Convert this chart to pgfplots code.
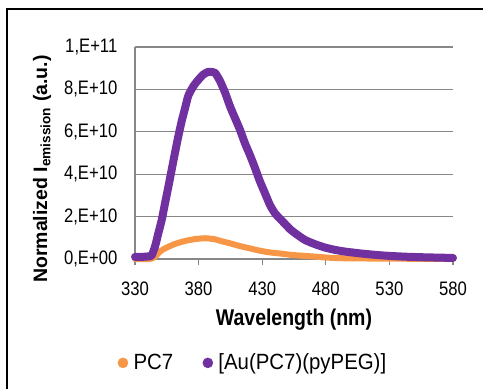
\documentclass[border=0pt]{standalone}
\usepackage{fontspec}
\setmainfont{Liberation Sans}
\usepackage{pgfplots}
\pgfplotsset{compat=1.18}
\definecolor{cPurple}{HTML}{7030A0}
\definecolor{cOrange}{HTML}{F79646}
\definecolor{cGrid}{HTML}{878787}
\newcommand{\vs}[1]{\scalebox{1}[1.17]{#1}}

\begin{document}
\begin{tikzpicture}[x=0.75pt,y=0.75pt]
\begin{axis}[
  at={(101.25pt,97.5pt)}, anchor=south west,
  scale only axis, width=238.5pt, height=159pt,
  xmin=330, xmax=580, ymin=0, ymax=10,
  clip=false,
  xtick={330,380,430,480,530,580},
  xticklabels={\vs{330},\vs{380},\vs{430},\vs{480},\vs{530},\vs{580}},
  ytick={0,2,4,6,8,10},
  yticklabels={{\vs{0,E+00}},{\vs{2,E+10}},{\vs{4,E+10}},{\vs{6,E+10}},{\vs{8,E+10}},{\vs{1,E+11}}},
  axis x line*=bottom, axis y line*=left,
  axis line style={-, draw=cGrid, line width=1pt},
  ymajorgrids, grid style={draw=cGrid, line width=1pt},
  tick align=outside, major tick length=4.5pt,
  xtick style={draw=cGrid, line width=1pt},
  ytick style={draw=none},
  ticklabel style={font=\fontsize{12.5}{14}\selectfont},
  xticklabel style={yshift=-9pt},
  yticklabel style={xshift=-5.25pt},
  xlabel={\vs{Wavelength (nm)}},
  ylabel={Normalized I\textsubscript{emission} (a.u.)},
  label style={font=\fontsize{14.6}{17}\selectfont\bfseries},
  xlabel style={at={(axis description cs:0.5,-0.288)}, anchor=center},
  ylabel style={at={(axis description cs:-0.292,0.4245)}, anchor=center},
  legend style={at={(0.372,-0.49)}, anchor=center, draw=none, fill=none,
    legend columns=2, font=\fontsize{15.3}{17}\selectfont,
    /tikz/every odd column/.append style={column sep=2pt},
    /tikz/every even column/.append style={column sep=20pt}},
]
\addlegendimage{legend image code/.code={\fill[cOrange] (0,0) circle (3.75pt);}}
\addlegendentry{\scalebox{1}[1.08]{PC7}}
\addlegendimage{legend image code/.code={\fill[cPurple] (0,0) circle (3.75pt);}}
\addlegendentry{\scalebox{1}[1.08]{[Au(PC7)(pyPEG)]}}

\addplot[forget plot, cOrange, line width=4.5pt, line cap=round, line join=round, smooth, tension=0.4] table {
330 0.0
340 0.0
343 0.02
345.7 0.1
349.7 0.35
353.6 0.5
361.4 0.71
369.3 0.85
377.2 0.94
385 0.98
389 0.96
392.9 0.93
396.8 0.86
404.7 0.74
412.5 0.61
420.4 0.5
428.3 0.39
436.1 0.31
444 0.26
452 0.2
460 0.16
470 0.12
480 0.07
490 0.04
500 0.03
520 0.02
550 0.01
580 0.01
};
\addplot[forget plot, cPurple, line width=6pt, line cap=round, line join=round, smooth, tension=0.4] table {
330 0.10
335 0.10
340 0.12
343 0.16
345.7 0.58
348.3 1.2
351 1.84
353.6 2.63
356.2 3.4
358.8 4.2
361.4 5.0
364.1 5.8
366.7 6.5
369.3 7.1
371.9 7.7
375.9 8.15
379.8 8.45
383.7 8.7
387.7 8.83
391 8.82
393 8.78
396.8 8.4
400.8 7.85
404.7 7.2
408.6 6.65
412.5 6.1
416.5 5.45
420.4 4.9
424.3 4.3
428.3 3.65
432.2 3.1
436.1 2.55
440.1 2.15
444 1.9
448 1.65
452 1.4
455.8 1.22
463.6 0.9
471.5 0.7
479.4 0.54
487.2 0.43
495.1 0.35
510.8 0.24
526.5 0.16
542.2 0.11
558 0.08
580 0.05
};
\end{axis}
\begin{scope}
\clip (0,0) rectangle (483,389);
\draw[line width=1.5pt] (7,-20) rectangle (540,380);
\end{scope}
\pgfresetboundingbox
\useasboundingbox (0,0) rectangle (483,389);
\end{tikzpicture}
\end{document}
